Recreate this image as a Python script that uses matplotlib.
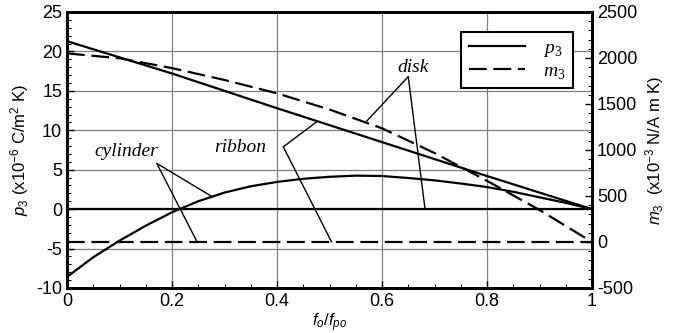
import matplotlib
matplotlib.use("Agg")
import matplotlib.pyplot as plt
from matplotlib.ticker import MultipleLocator, FixedLocator, FixedFormatter

# data
x_coarse = [0, 0.2, 0.4, 0.6, 0.8, 1.0]
p3_ribbon = [21.3, 17.2, 12.8, 8.5, 4.2, 0]

x_fine = [0, 0.05, 0.1, 0.15, 0.2, 0.25, 0.3, 0.35, 0.4, 0.45, 0.5,
          0.55, 0.6, 0.65, 0.7, 0.75, 0.8, 0.85, 0.9, 0.95, 1.0]
p3_cylinder = [-8.6, -6.1, -4.0, -2.1, -0.4, 1.0, 2.1, 2.9, 3.45, 3.85, 4.1,
               4.25, 4.2, 3.95, 3.65, 3.25, 2.8, 2.2, 1.5, 0.8, 0]

x_disk = [0, 0.1, 0.2, 0.3, 0.4, 0.5, 0.6, 0.7, 0.8, 0.9, 0.95, 1.0]
m3_disk = [2050, 1997, 1890, 1761, 1616, 1440, 1236, 967, 665, 348, 174, 0]

x_ends = [0, 1]
p3_disk = [0, 0]
m3_flat = [0, 0]  # ribbon and cylinder

x_ticks = [0, 0.2, 0.4, 0.6, 0.8, 1.0]
x_tick_labels = ["0", "0.2", "0.4", "0.6", "0.8", "1"]

# fonts
plt.rcParams['font.family'] = ['Liberation Sans', 'DejaVu Sans']
plt.rcParams['axes.unicode_minus'] = False
plt.rcParams['mathtext.fontset'] = 'custom'
plt.rcParams['mathtext.rm'] = 'Liberation Sans'
plt.rcParams['mathtext.it'] = 'Liberation Sans:italic'
plt.rcParams['mathtext.bf'] = 'Liberation Serif'
plt.rcParams['mathtext.cal'] = 'Liberation Serif:italic'

fig = plt.figure(figsize=(6.78, 3.33), dpi=100)
ax = fig.add_axes([67 / 678, 1 - 288 / 333, 525 / 678, 276 / 333])
ax2 = ax.twinx()

dash = (0, (8, 3))
lw = 1.6

# p3 curves on the left axis
ax.plot(x_coarse, p3_ribbon, color='k', lw=lw)
ax.plot(x_fine, p3_cylinder, color='k', lw=lw)
ax.plot(x_ends, p3_disk, color='k', lw=lw)

# m3 curves on the right axis
ax2.plot(x_disk, m3_disk, color='k', lw=lw, linestyle=dash)
ax2.plot(x_ends, m3_flat, color='k', lw=lw, linestyle=dash)

# axes limits and ticks
ax.set_xlim(0, 1)
ax.set_ylim(-10, 25)
ax2.set_ylim(-500, 2500)
ax.xaxis.set_major_locator(FixedLocator(x_ticks))
ax.xaxis.set_major_formatter(FixedFormatter(x_tick_labels))
ax.xaxis.set_minor_locator(MultipleLocator(0.05))
ax.yaxis.set_major_locator(MultipleLocator(5))
ax.yaxis.set_minor_locator(MultipleLocator(1))
ax2.yaxis.set_major_locator(MultipleLocator(500))
ax2.yaxis.set_minor_locator(MultipleLocator(100))

ax.tick_params(which='both', direction='in', labelsize=13, top=False, right=False)
ax.tick_params(which='major', length=5, width=1)
ax.tick_params(which='minor', length=3, width=0.8)
ax2.tick_params(which='both', direction='in', labelsize=13)
ax2.tick_params(which='major', length=5, width=1)
ax2.tick_params(which='minor', length=3, width=0.8)

for a in (ax, ax2):
    for s in a.spines.values():
        s.set_linewidth(2)

# grid
ax.grid(True, which='major', color='#808080', lw=0.9)
ax.set_axisbelow(True)

# labels
ax.set_xlabel(r'$f_o/f_{po}$', fontsize=12, labelpad=1)
ax.set_ylabel(r'$p_3$ (x10$^{-6}$ C/m$^2$ K)', fontsize=12, labelpad=4)
ax2.set_ylabel(r'$m_3$  (x10$^{-3}$ N/A m K)', fontsize=12, labelpad=4)

# annotations
tfont = dict(family='Liberation Serif', style='italic', fontsize=14,
             ha='center', va='center')
ax.text(0.112, 7.3, 'cylinder', **tfont)
ax.text(0.330, 7.8, 'ribbon', **tfont)
ax.text(0.659, 18.0, 'disk', **tfont)

lead = dict(arrowstyle='-', color='k', lw=1, shrinkA=0, shrinkB=0)
ax.annotate('', xy=(0.276, 1.6), xytext=(0.171, 5.8), arrowprops=lead)
ax.annotate('', xy=(0.248, -4.17), xytext=(0.171, 5.8), arrowprops=lead)
ax.annotate('', xy=(0.476, 11.1), xytext=(0.412, 7.9), arrowprops=lead)
ax.annotate('', xy=(0.504, -4.17), xytext=(0.412, 7.9), arrowprops=lead)
ax.annotate('', xy=(0.570, 11.1), xytext=(0.650, 16.8), arrowprops=lead)
ax.annotate('', xy=(0.682, 0), xytext=(0.650, 16.8), arrowprops=lead)

# legend
h1, = ax.plot([], [], color='k', lw=lw)
h2, = ax.plot([], [], color='k', lw=lw, linestyle=dash)
leg = ax2.legend([h1, h2], [r'$\mathcal{p}_\mathbf{3}$', r'$\mathcal{m}_\mathbf{3}$'],
                 loc='upper right', bbox_to_anchor=(0.964, 0.929),
                 borderaxespad=0, fontsize=14, handlelength=2.9,
                 fancybox=False, framealpha=1, edgecolor='k', borderpad=0.4,
                 labelspacing=0.15, handletextpad=0.9)
leg.get_frame().set_linewidth(1.5)

fig.savefig("out.png", dpi=100)
